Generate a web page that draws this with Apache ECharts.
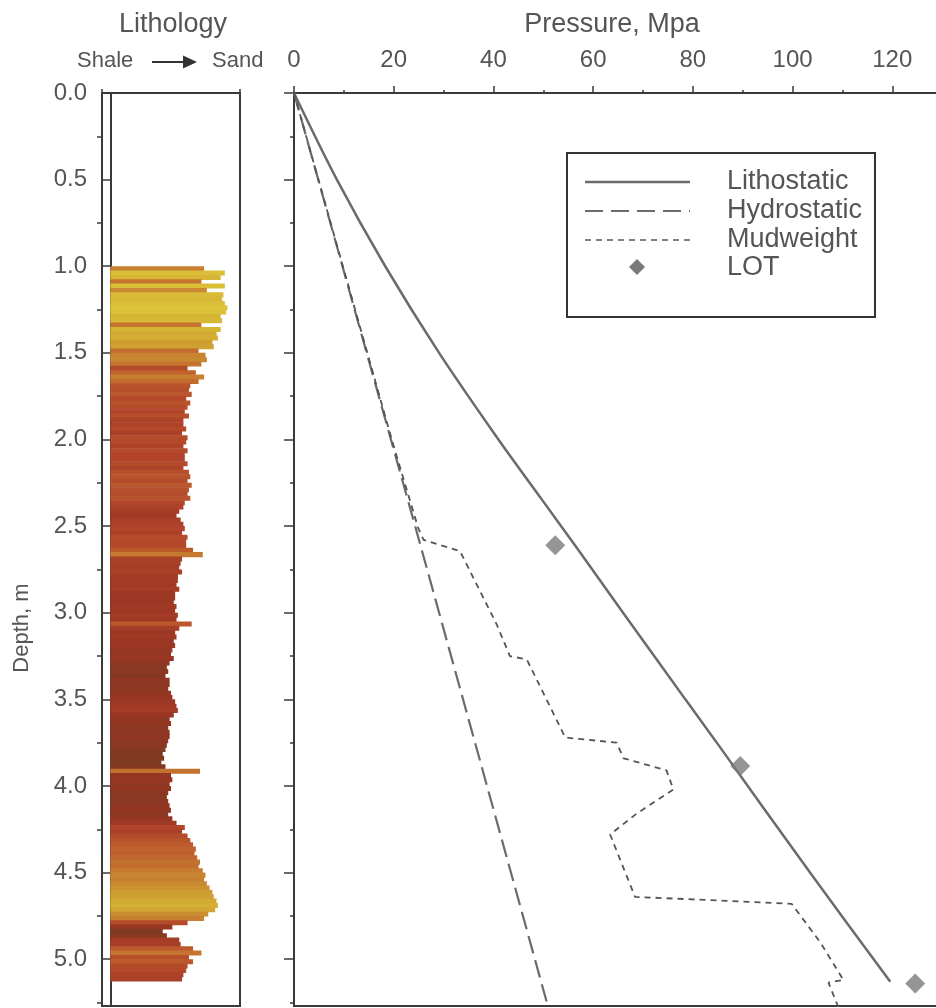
<!DOCTYPE html>
<html><head><meta charset="utf-8">
<script src="https://cdn.jsdelivr.net/npm/echarts@6/dist/echarts.min.js"></script>
<style>html,body{margin:0;padding:0;background:#fff}#c{width:936px;height:1008px}</style>
</head><body><div id="c"></div>
<script>
// ---------- data ----------
const lithTop = 1.0;
const lithStep = 0.025;
// shale(low) -> sand(high) index, one value every 0.025 m starting at 1.0
const lithIndex = [
  68, 83, 80, 66,  83, 70, 82, 81,  83, 85, 84, 80,  81, 66, 80, 77,
  78, 74, 75, 64,  69, 70, 66, 56,  62, 68, 64, 58,  57, 59, 55, 58,
  56, 54, 57, 53,  53, 55, 52, 56,  55, 53, 56, 54,  54, 56, 53, 57,
  58, 56, 59, 57,  56, 58, 54, 53,  50, 48, 51, 53,  54, 52, 56, 55,
  55, 60, 67, 52,  51, 50, 52, 49,  49, 48, 50, 47,  47, 46, 48, 47,
  49, 48, 59, 50,  47, 48, 46, 47,  45, 44, 46, 43,  41, 42, 40, 43,
  43, 42, 44, 45,  47, 48, 49, 46,  43, 44, 42, 43,  43, 42, 41, 40,
  38, 39, 37, 40,  65, 44, 45, 43,  44, 42, 41, 42,  43, 44, 42, 45,
  48, 54, 52, 56,  58, 60, 62, 61,  63, 65, 64, 67,  69, 68, 70, 72,
  74, 75, 77, 78,  76, 71, 68, 56,  45, 38, 41, 50,  51, 60, 66, 57,
  60, 56, 55, 53,  52
];
const depthTicks = [0, 0.5, 1.0, 1.5, 2.0, 2.5, 3.0, 3.5, 4.0, 4.5, 5.0];
const depthMinorTicks = [0.25, 0.75, 1.25, 1.75, 2.25, 2.75, 3.25, 3.75, 4.25, 4.75, 5.25];
const pressureTicks = [0, 20, 40, 60, 80, 100, 120, 140];

const lithostaticDepth = [0, 0.5, 1.0, 1.5, 2.0, 2.35, 2.616, 3.0, 3.5, 3.77, 4.5, 5.13];
const lithostaticP     = [0, 8.6, 18.3, 29.1, 41, 49.8, 56.5, 66, 78.5, 85.3, 103.5, 119.6];

const hydroDepth = [0, 2.5, 5.3];
const hydroP     = [0, 24.3, 51.2];

const mudDepth = [0, 1.0, 2.0, 2.51, 2.58, 2.645, 3.07, 3.25, 3.27, 3.72, 3.75, 3.84, 3.91, 4.02, 4.16, 4.28, 4.64, 4.68, 4.90, 5.12, 5.135, 5.3];
const mudP     = [0, 9.8, 19.6, 24.9, 26.0, 33.3, 40.7, 43.3, 46.7, 54.4, 64.7, 66.1, 74.7, 76.1, 68.7, 63.4, 68.4, 99.8, 105.5, 110.2, 107.2, 109.5];

const lotDepth = [2.61, 3.885, 5.14];
const lotP     = [52.4, 89.5, 124.6];

// ---------- chart ----------
const AX = '#3a3a3a';
const TXT = '#555555';
const FONT = '"Liberation Sans", Arial, sans-serif';
const DEPTH_MAX = 5.27;

const chart = echarts.init(document.getElementById('c'));

const lithData = lithIndex.map((v, i) => [v, +(lithTop + i * lithStep).toFixed(3)]);
const pair = (ps, ds) => ps.map((p, i) => [p, ds[i]]);

const axLine = {show: true, lineStyle: {color: AX, width: 2}};
const noSplit = {show: false};

const option = {
  animation: false,
  backgroundColor: '#ffffff',
  grid: [
    {left: 102, top: 93, width: 138, height: 913, show: true, borderColor: AX, borderWidth: 2, backgroundColor: 'transparent', outerBoundsMode: 'none', containLabel: false},
    {left: 294, top: 93, width: 698, height: 913, show: true, borderColor: AX, borderWidth: 2, backgroundColor: 'transparent', outerBoundsMode: 'none', containLabel: false}
  ],
  visualMap: [{
    type: 'continuous', show: false, seriesIndex: 0, dimension: 0, min: 38, max: 85,
    inRange: {color: ['#7e3a22', '#9a3623', '#b0432a', '#bf602d', '#c98531', '#d3ac32', '#dcc43a']}
  }],
  xAxis: [
    {gridIndex: 0, type: 'value', position: 'top', min: -6, max: 94,
     axisLine: axLine,
     axisTick: {show: true, customValues: [-6, 94], length: 4, lineStyle: {color: AX, width: 1.5}},
     axisLabel: {show: false}, splitLine: noSplit},
    {gridIndex: 1, type: 'value', position: 'top', min: 0, max: 140, interval: 20,
     axisLine: axLine,
     axisTick: {show: true, length: 7, lineStyle: {color: AX, width: 1.5}},
     minorTick: {show: true, splitNumber: 2, length: 3, lineStyle: {color: AX, width: 1.5}},
     axisLabel: {show: true, customValues: pressureTicks, fontSize: 24, color: TXT, margin: 21, fontFamily: FONT},
     splitLine: noSplit, minorSplitLine: noSplit}
  ],
  yAxis: [
    {gridIndex: 0, type: 'value', inverse: true, min: 0, max: DEPTH_MAX, position: 'left',
     axisLine: axLine,
     axisTick: {show: true, customValues: depthTicks, length: 9, lineStyle: {color: AX, width: 1.5}},
     axisLabel: {show: true, customValues: depthTicks, formatter: v => Number(v).toFixed(1), fontSize: 24, color: TXT, margin: 15, fontFamily: FONT},
     splitLine: noSplit},
    {gridIndex: 0, type: 'value', inverse: true, min: 0, max: DEPTH_MAX, position: 'left', offset: 0,
     axisLine: {show: false},
     axisTick: {show: true, customValues: depthMinorTicks, length: 5, lineStyle: {color: AX, width: 1.5}},
     axisLabel: {show: false}, splitLine: noSplit},
    {gridIndex: 1, type: 'value', inverse: true, min: 0, max: DEPTH_MAX, position: 'left',
     axisLine: axLine,
     axisTick: {show: true, customValues: depthTicks, length: 10, lineStyle: {color: AX, width: 1.5}},
     axisLabel: {show: false}, splitLine: noSplit},
    {gridIndex: 1, type: 'value', inverse: true, min: 0, max: DEPTH_MAX, position: 'left', offset: 0,
     axisLine: {show: false},
     axisTick: {show: true, customValues: depthMinorTicks, length: 4, lineStyle: {color: AX, width: 1.5}},
     axisLabel: {show: false}, splitLine: noSplit}
  ],
  series: [
    {
      name: 'Lithology', type: 'custom', xAxisIndex: 0, yAxisIndex: 0, clip: true,
      data: lithData,
      encode: {x: 0, y: 1},
      renderItem: function (params, api) {
        const v = api.value(0), d = api.value(1);
        const p0 = api.coord([0, d]);
        const p1 = api.coord([v, d + lithStep]);
        return {
          type: 'rect',
          shape: {x: p0[0], y: p0[1], width: p1[0] - p0[0], height: p1[1] - p0[1] + 0.7},
          style: {fill: api.visual('color')}
        };
      },
      z: 1
    },
    {
      name: 'Lithostatic', type: 'line', xAxisIndex: 1, yAxisIndex: 2,
      data: pair(lithostaticP, lithostaticDepth), symbol: 'none', smooth: 0.3,
      lineStyle: {color: '#6b6b6b', width: 2.5}, z: 3
    },
    {
      name: 'Hydrostatic', type: 'line', xAxisIndex: 1, yAxisIndex: 2,
      data: pair(hydroP, hydroDepth), symbol: 'none',
      lineStyle: {color: '#6b6b6b', width: 2.2, type: [18, 7]}, z: 3
    },
    {
      name: 'Mudweight', type: 'line', xAxisIndex: 1, yAxisIndex: 2,
      data: pair(mudP, mudDepth), symbol: 'none',
      lineStyle: {color: '#555555', width: 1.8, type: [6, 5]}, z: 3
    },
    {
      name: 'LOT', type: 'scatter', xAxisIndex: 1, yAxisIndex: 2,
      data: pair(lotP, lotDepth), symbol: 'diamond', symbolSize: 20,
      itemStyle: {color: '#7a7a7a'}, z: 4
    }
  ],
  graphic: [
    // titles
    {type: 'text', x: 173, y: 25, z: 10, style: {text: 'Lithology', font: '27px ' + FONT, fill: TXT, align: 'center', verticalAlign: 'middle'}},
    {type: 'text', x: 612, y: 25, z: 10, style: {text: 'Pressure, Mpa', font: '27px ' + FONT, fill: TXT, align: 'center', verticalAlign: 'middle'}},
    {type: 'text', x: 77, y: 61, z: 10, style: {text: 'Shale', font: '22px ' + FONT, fill: TXT, align: 'left', verticalAlign: 'middle'}},
    {type: 'line', z: 10, shape: {x1: 152, y1: 62, x2: 186, y2: 62}, style: {stroke: '#333', lineWidth: 2}},
    {type: 'polygon', z: 10, shape: {points: [[183, 55.5], [197, 62], [183, 68.5]]}, style: {fill: '#333'}},
    {type: 'text', x: 212, y: 61, z: 10, style: {text: 'Sand', font: '22px ' + FONT, fill: TXT, align: 'left', verticalAlign: 'middle'}},
    {type: 'text', x: 22, y: 628, rotation: Math.PI / 2, z: 10, style: {text: 'Depth, m', font: '22px ' + FONT, fill: TXT, align: 'center', verticalAlign: 'middle'}},
    // legend
    {type: 'rect', z: 20, shape: {x: 567, y: 153, width: 308, height: 164}, style: {fill: '#fff', stroke: '#333', lineWidth: 2}},
    {type: 'line', z: 21, shape: {x1: 585, y1: 182, x2: 690, y2: 182}, style: {stroke: '#6b6b6b', lineWidth: 2.5}},
    {type: 'line', z: 21, shape: {x1: 585, y1: 211, x2: 690, y2: 211}, style: {stroke: '#6b6b6b', lineWidth: 2, lineDash: [18, 8]}},
    {type: 'line', z: 21, shape: {x1: 585, y1: 240, x2: 690, y2: 240}, style: {stroke: '#555', lineWidth: 1.6, lineDash: [6, 5]}},
    {type: 'polygon', z: 21, shape: {points: [[637, 259], [645, 267], [637, 275], [629, 267]]}, style: {fill: '#7a7a7a'}},
    {type: 'text', x: 727, y: 182, z: 21, style: {text: 'Lithostatic', font: '27px ' + FONT, fill: TXT, verticalAlign: 'middle'}},
    {type: 'text', x: 727, y: 211, z: 21, style: {text: 'Hydrostatic', font: '27px ' + FONT, fill: TXT, verticalAlign: 'middle'}},
    {type: 'text', x: 727, y: 240, z: 21, style: {text: 'Mudweight', font: '27px ' + FONT, fill: TXT, verticalAlign: 'middle'}},
    {type: 'text', x: 727, y: 268, z: 21, style: {text: 'LOT', font: '27px ' + FONT, fill: TXT, verticalAlign: 'middle'}}
  ]
};
chart.setOption(option);
</script>
</body></html>
